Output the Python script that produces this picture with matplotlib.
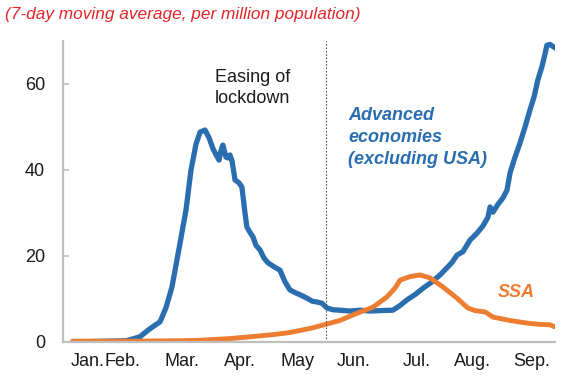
import matplotlib
matplotlib.use("Agg")
import matplotlib.pyplot as plt

# ---- data (day of year, value) ----
adv_days = [5, 33, 40, 45, 50.5, 53.6, 56.7, 60.9, 64, 66.6, 69.2, 71.3, 73.9, 76, 78, 79.7,
            81.2, 82.2, 83.2, 84.8, 85.9, 86.9, 88, 89.5, 91.6, 93.1, 94.7, 95.7, 97.3, 98.9,
            100.4, 102.5, 104.6, 106.7, 109.8, 112.9, 115.5, 118.1, 120.7, 123.3, 126.9,
            129.6, 132.2, 134.8, 137.4, 140.5, 144.1, 149.3, 154.5, 159.7, 164.9, 171.7,
            175.4, 179, 183.1, 187.3, 192, 196.2, 200.3, 202.4, 205, 208.1, 211.8, 215.4,
            218.5, 221.1, 222.2, 223.7, 226.3, 228.9, 231, 231.5, 232.6, 235.2, 237.8,
            240.4, 243, 245.1, 247.1, 249.2, 250.8, 251.8, 253.4, 256]
adv_vals = [0, 0.3, 1.2, 3, 4.7, 8, 12.8, 23, 30.7, 40, 46, 48.8, 49.3, 47.5, 45, 43.5,
            42.3, 44.5, 45.8, 43, 42.8, 43.5, 42, 37.7, 37, 36, 30, 26.7, 25.5, 24.4,
            22.5, 21.4, 19.5, 18.4, 17.5, 16.7, 14, 12.1, 11.5, 11, 10.2,
            9.5, 9.3, 9, 7.9, 7.5, 7.4, 7.2, 7.4, 7.2, 7.3, 7.4,
            8.5, 9.8, 11, 12.5, 14, 15.6, 17.5, 18.5, 20.2, 21, 23.7, 25.3,
            27, 29, 31.4, 30.2, 32, 33.5, 35.3, 36.5, 39.3, 43, 46.3,
            50, 54, 57, 61, 64, 67, 69, 69.2, 68.4]

ssa_days = [5, 35, 61, 71, 87, 97, 109, 118, 130, 137.4, 144, 152, 161.3, 168.6, 172.7,
            175.4, 180.5, 185.8, 191, 197.7, 205, 210.7, 214.3, 219.6, 223.7, 232.6,
            241.4, 248.2, 253.4, 256]
ssa_vals = [0.2, 0.2, 0.3, 0.4, 0.8, 1.2, 1.7, 2.2, 3.3, 4.2, 5.0, 6.5, 8.1, 10.5, 12.5,
            14.4, 15.2, 15.6, 14.9, 12.8, 10.2, 7.9, 7.3, 7.0, 5.8, 5.0,
            4.4, 4.1, 4.0, 3.5]

month_labels = ["Jan.", "Feb.", "Mar.", "Apr.", "May", "Jun.", "Jul.", "Aug.", "Sep."]
month_pos = [13, 31, 62, 92, 122, 151, 184, 213, 244]
y_ticks = [0, 20, 40, 60]
easing_day = 136.8

BLUE = "#2A6EAF"
ORANGE = "#ED7D31"
RED = "#E3262A"

plt.rcParams["font.family"] = ["Liberation Sans", "DejaVu Sans"]

fig = plt.figure(figsize=(5.74, 3.88), dpi=100)
ax = fig.add_axes([63/574, 46/388, 492/574, 301/388])

ax.plot(adv_days, adv_vals, color=BLUE, lw=3.8, solid_capstyle="round", solid_joinstyle="round")
ax.plot(ssa_days, ssa_vals, color=ORANGE, lw=3.5, solid_capstyle="round", solid_joinstyle="round")
ax.axvline(easing_day, color="#555555", lw=0.8, ls=(0, (1.5, 1.5)))

ax.set_xlim(0, 256)
ax.set_ylim(0, 70)
ax.set_yticks(y_ticks)
ax.set_xticks(month_pos)
ax.set_xticklabels(month_labels)
ax.tick_params(axis="y", direction="in", length=4.5, width=1.2, color="#BFBFBF",
               labelsize=13, pad=13, labelcolor="#1a1a1a")
ax.tick_params(axis="x", length=0, labelsize=13, pad=8, labelcolor="#1a1a1a")

for s in ["top", "right"]:
    ax.spines[s].set_visible(False)
for s in ["left", "bottom"]:
    ax.spines[s].set_color("#BFBFBF")
    ax.spines[s].set_linewidth(1.6)

fig.text(5/574, 1 - 15/388, "(7-day moving average, per million population)", color=RED,
         fontsize=12.4, style="italic", ha="left", va="center")

ax.text(98.5, 59, "Easing of\nlockdown", ha="center", va="center", fontsize=13,
        color="#1a1a1a", linespacing=1.3)
ax.text(148.4, 47.6, "Advanced\neconomies\n(excluding USA)", ha="left", va="center",
        fontsize=13, color=BLUE, style="italic", fontweight="bold", linespacing=1.4)
ax.text(226, 11.4, "SSA", ha="left", va="center", fontsize=13, color=ORANGE,
        style="italic", fontweight="bold")

fig.savefig("out.png", dpi=100)
